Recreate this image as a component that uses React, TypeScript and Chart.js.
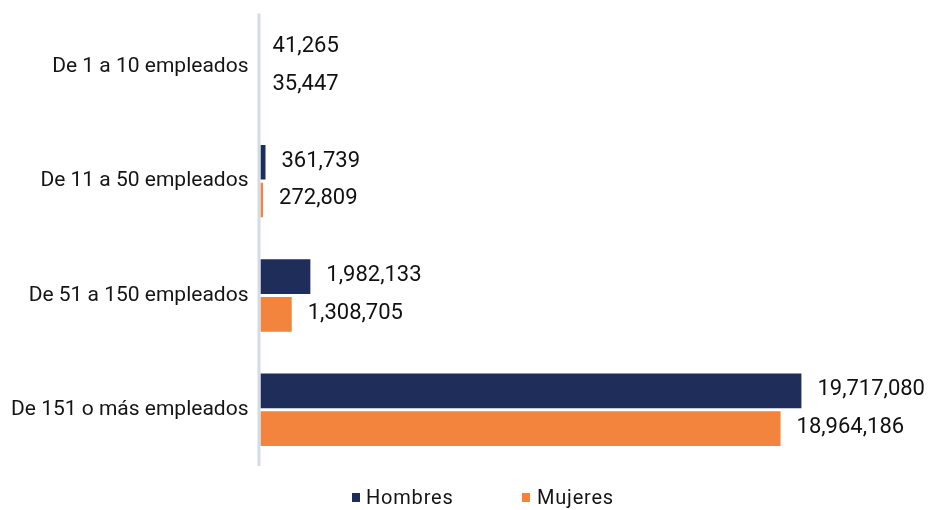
import React, { useEffect, useRef } from "react";
import { Chart, registerables } from "chart.js";

Chart.register(...registerables);

const categories = [
  "De 1 a 10 empleados",
  "De 11 a 50 empleados",
  "De 51 a 150 empleados",
  "De 151 o más empleados",
];
const hombres = [41265, 361739, 1982133, 19717080];
const mujeres = [35447, 272809, 1308705, 18964186];
const seriesNames = ["Hombres", "Mujeres"];

const NAVY = "#1F2D5A";
const ORANGE = "#F2843E";
const AXIS = "#D3DCE6";

const clipPlugin = {
  id: "clipBars",
  beforeDatasetsDraw(chart: any) {
    const { ctx, chartArea } = chart;
    ctx.save();
    ctx.beginPath();
    ctx.rect(chartArea.left + 5, 0, chart.width, chart.height);
    ctx.clip();
  },
  afterDatasetsDraw(chart: any) {
    const { ctx, chartArea } = chart;
    ctx.restore();
    // axis line
    ctx.save();
    ctx.strokeStyle = AXIS;
    ctx.lineWidth = 3;
    ctx.beginPath();
    ctx.moveTo(chartArea.left + 3.5, chartArea.top + 4);
    ctx.lineTo(chartArea.left + 3.5, chartArea.bottom - 1);
    ctx.stroke();
    ctx.restore();
    // value labels
    ctx.save();
    ctx.font = "22px Roboto";
    ctx.fillStyle = "#111";
    ctx.textAlign = "left";
    ctx.textBaseline = "middle";
    chart.data.datasets.forEach((ds: any, di: number) => {
      const meta = chart.getDatasetMeta(di);
      meta.data.forEach((el: any, i: number) => {
        const v = ds.data[i] as number;
        ctx.fillText(v.toLocaleString("en-US"), el.x + 16, el.y - 1);
      });
    });
    ctx.restore();
  },
};

export default function App() {
  const ref = useRef<HTMLCanvasElement>(null);
  useEffect(() => {
    document.body.style.margin = "0";
    const chart = new Chart(ref.current!, {
      type: "bar",
      data: {
        labels: categories,
        datasets: [
          {
            label: seriesNames[0],
            data: hombres,
            backgroundColor: NAVY,
            barPercentage: 0.92,
            categoryPercentage: 0.66,
          },
          {
            label: seriesNames[1],
            data: mujeres,
            backgroundColor: ORANGE,
            barPercentage: 0.92,
            categoryPercentage: 0.66,
          },
        ],
      },
      options: {
        indexAxis: "y",
        animation: false,
        responsive: false,
        maintainAspectRatio: false,
        layout: { padding: { top: 0, right: 10, left: 4, bottom: 43 } },
        scales: {
          x: {
            display: false,
            min: 0,
            max: 24000000,
          },
          y: {
            grid: { display: false, drawTicks: false },
            border: { display: false },
            ticks: {
              color: "#151515",
              font: { family: "Roboto", size: 21 },
              padding: 7,
            },
          },
        },
        plugins: {
          legend: { display: false },
          tooltip: { enabled: false },
        },
      },
      plugins: [clipPlugin],
    });
    return () => chart.destroy();
  }, []);
  const legendText: React.CSSProperties = {
    position: "absolute",
    top: 484,
    fontFamily: "Roboto",
    fontSize: 20,
    letterSpacing: 0.8,
    lineHeight: "26px",
    color: "#151515",
    whiteSpace: "nowrap",
  };
  const box = (color: string, left: number): React.CSSProperties => ({
    position: "absolute",
    left,
    top: 493,
    width: 8,
    height: 9,
    background: color,
  });
  return (
    <div style={{ position: "fixed", left: 0, top: 0, width: 930, height: 510, overflow: "hidden" }}>
      <canvas
        ref={ref}
        width={930}
        height={520}
        style={{ position: "absolute", left: 0, top: -10, width: 930, height: 520 }}
      />
      <div style={box(NAVY, 352)} />
      <div style={{ ...legendText, left: 366 }}>{seriesNames[0]}</div>
      <div style={box(ORANGE, 522)} />
      <div style={{ ...legendText, left: 537 }}>{seriesNames[1]}</div>
    </div>
  );
}
